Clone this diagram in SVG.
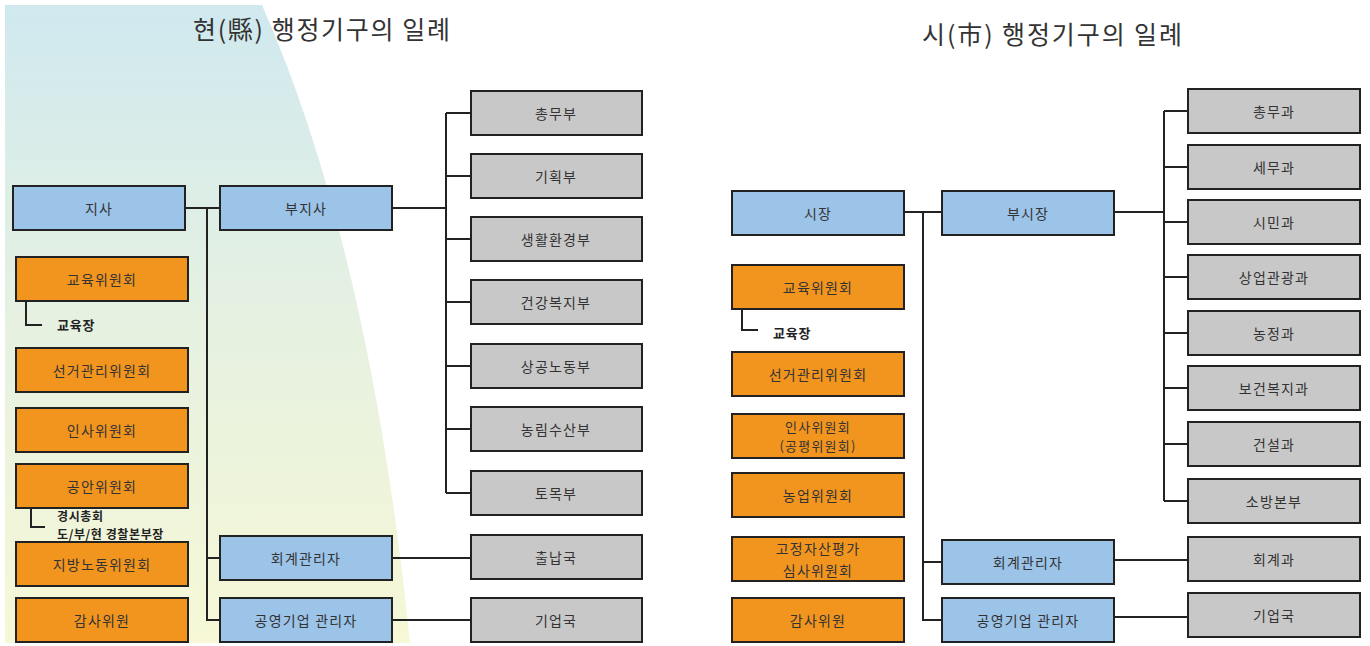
<svg xmlns="http://www.w3.org/2000/svg" width="1370" height="646" viewBox="0 0 1370 646">
<defs>
<linearGradient id="bg" x1="0" y1="0" x2="0" y2="1">
<stop offset="0" stop-color="#d0e9ef"/>
<stop offset="0.5" stop-color="#e6f1e1"/>
<stop offset="1" stop-color="#f6f8d6"/>
</linearGradient>
<style>
.b{fill:#9cc3e8;stroke:#222;stroke-width:2}
.o{fill:#f2951e;stroke:#222;stroke-width:2}
.g{fill:#c8c8c8;stroke:#222;stroke-width:2}
.t{font-family:"Noto Sans CJK KR","Noto Sans",sans-serif;font-size:14px;fill:#333;text-anchor:middle;dominant-baseline:central;letter-spacing:1.2px}
.t2{font-size:13px}
.s{font-family:"Noto Sans CJK KR","Noto Sans",sans-serif;font-size:13px;font-weight:bold;fill:#222;dominant-baseline:central;letter-spacing:0.8px}
.s2{font-size:12px;letter-spacing:0.6px}
.h{font-family:"Noto Sans CJK KR","Noto Sans",sans-serif;font-size:25px;fill:#333;dominant-baseline:central}
.c{fill:none;stroke:#222;stroke-width:2}
</style>
</defs>
<rect width="1370" height="646" fill="#fff"/>
<path d="M5,5 H262 Q370,250 410,643 H5 Z" fill="url(#bg)"/>
<text class="h" x="193" y="28" textLength="257">현(縣) 행정기구의 일례</text>
<text class="h" x="922" y="33" textLength="260">시(市) 행정기구의 일례</text>

<g id="connectors">
<path class="c" d="M185,208 H220 M207,208 V620 H220 M207,558 H220"/>
<path class="c" d="M392,208 H446 M446,113 V493 M446,113 H471 M446,176 H471 M446,239 H471 M446,302 H471 M446,366 H471 M446,429 H471 M446,493 H471"/>
<path class="c" d="M392,558 H471 M392,620 H471"/>
<path class="c" d="M26,301 V325 H42 M31,508 V527 H45"/>
<path class="c" d="M904,212 H942 M923,212 V620 H942 M923,562 H942"/>
<path class="c" d="M1114,212 H1164 M1164,111 V501 M1164,111 H1188 M1164,167 H1188 M1164,222 H1188 M1164,277 H1188 M1164,333 H1188 M1164,388 H1188 M1164,444 H1188 M1164,501 H1188"/>
<path class="c" d="M1114,560 H1188 M1114,617 H1188"/>
<path class="c" d="M742,309 V330 H758"/>
</g>

<g id="n-jisa"><rect class="b" x="13" y="186" width="172" height="44"/><text class="t" x="99" y="208">지사</text></g>
<g id="n-bujisa"><rect class="b" x="220" y="186" width="172" height="44"/><text class="t" x="306" y="208">부지사</text></g>
<g id="n-hoegye-l"><rect class="b" x="220" y="536" width="172" height="44"/><text class="t" x="306" y="558">회계관리자</text></g>
<g id="n-gongyeong-l"><rect class="b" x="220" y="598" width="172" height="44"/><text class="t" x="306" y="620">공영기업 관리자</text></g>

<g id="n-gyoyuk-l"><rect class="o" x="16" y="257" width="172" height="44"/><text class="t" x="102" y="279">교육위원회</text></g>
<g id="n-gyoyukjang-l"><text class="s" x="57" y="324">교육장</text></g>
<g id="n-seongeo-l"><rect class="o" x="16" y="348" width="172" height="44"/><text class="t" x="102" y="370">선거관리위원회</text></g>
<g id="n-insa-l"><rect class="o" x="16" y="408" width="172" height="44"/><text class="t" x="102" y="430">인사위원회</text></g>
<g id="n-gongan-l"><rect class="o" x="16" y="464" width="172" height="44"/><text class="t" x="102" y="486">공안위원회</text></g>
<g id="n-police-l"><text class="s s2" x="57" y="515">경시총회</text><text class="s s2" x="57" y="533">도/부/현 경찰본부장</text></g>
<g id="n-nodong-l"><rect class="o" x="16" y="542" width="172" height="44"/><text class="t" x="102" y="564">지방노동위원회</text></g>
<g id="n-gamsa-l"><rect class="o" x="16" y="598" width="172" height="44"/><text class="t" x="102" y="620">감사위원</text></g>

<g id="n-chongmubu"><rect class="g" x="471" y="91" width="171" height="44"/><text class="t" x="556" y="113">총무부</text></g>
<g id="n-gihoek"><rect class="g" x="471" y="154" width="171" height="44"/><text class="t" x="556" y="176">기획부</text></g>
<g id="n-saenghwal"><rect class="g" x="471" y="217" width="171" height="44"/><text class="t" x="556" y="239">생활환경부</text></g>
<g id="n-geongang"><rect class="g" x="471" y="280" width="171" height="44"/><text class="t" x="556" y="302">건강복지부</text></g>
<g id="n-sanggong"><rect class="g" x="471" y="344" width="171" height="44"/><text class="t" x="556" y="366">상공노동부</text></g>
<g id="n-nongrim"><rect class="g" x="471" y="407" width="171" height="44"/><text class="t" x="556" y="429">농림수산부</text></g>
<g id="n-tomok"><rect class="g" x="471" y="471" width="171" height="44"/><text class="t" x="556" y="493">토목부</text></g>
<g id="n-chulnap"><rect class="g" x="471" y="535" width="171" height="44"/><text class="t" x="556" y="557">출납국</text></g>
<g id="n-gieop-l"><rect class="g" x="471" y="598" width="171" height="44"/><text class="t" x="556" y="620">기업국</text></g>

<g id="n-sijang"><rect class="b" x="732" y="191" width="172" height="44"/><text class="t" x="818" y="213">시장</text></g>
<g id="n-busijang"><rect class="b" x="942" y="191" width="172" height="44"/><text class="t" x="1028" y="213">부시장</text></g>
<g id="n-hoegye-r"><rect class="b" x="942" y="540" width="172" height="44"/><text class="t" x="1028" y="562">회계관리자</text></g>
<g id="n-gongyeong-r"><rect class="b" x="942" y="598" width="172" height="44"/><text class="t" x="1028" y="620">공영기업 관리자</text></g>

<g id="n-gyoyuk-r"><rect class="o" x="732" y="265" width="172" height="44"/><text class="t" x="818" y="287">교육위원회</text></g>
<g id="n-gyoyukjang-r"><text class="s" x="773" y="332">교육장</text></g>
<g id="n-seongeo-r"><rect class="o" x="732" y="352" width="172" height="44"/><text class="t" x="818" y="374">선거관리위원회</text></g>
<g id="n-insa-r"><rect class="o" x="732" y="414" width="172" height="44"/><text class="t t2" x="818" y="426">인사위원회</text><text class="t t2" x="818" y="445">(공평위원회)</text></g>
<g id="n-nongeop-r"><rect class="o" x="732" y="473" width="172" height="44"/><text class="t" x="818" y="495">농업위원회</text></g>
<g id="n-gojeong-r"><rect class="o" x="732" y="537" width="172" height="44"/><text class="t" x="818" y="548">고정자산평가</text><text class="t" x="818" y="570">심사위원회</text></g>
<g id="n-gamsa-r"><rect class="o" x="732" y="598" width="172" height="44"/><text class="t" x="818" y="620">감사위원</text></g>

<g id="n-chongmugwa"><rect class="g" x="1188" y="89" width="172" height="44"/><text class="t" x="1274" y="111">총무과</text></g>
<g id="n-semugwa"><rect class="g" x="1188" y="145" width="172" height="44"/><text class="t" x="1274" y="167">세무과</text></g>
<g id="n-simingwa"><rect class="g" x="1188" y="200" width="172" height="44"/><text class="t" x="1274" y="222">시민과</text></g>
<g id="n-sangeop"><rect class="g" x="1188" y="255" width="172" height="44"/><text class="t" x="1274" y="277">상업관광과</text></g>
<g id="n-nongjeong"><rect class="g" x="1188" y="311" width="172" height="44"/><text class="t" x="1274" y="333">농정과</text></g>
<g id="n-bogeon"><rect class="g" x="1188" y="366" width="172" height="44"/><text class="t" x="1274" y="388">보건복지과</text></g>
<g id="n-geonseol"><rect class="g" x="1188" y="422" width="172" height="44"/><text class="t" x="1274" y="444">건설과</text></g>
<g id="n-sobang"><rect class="g" x="1188" y="479" width="172" height="44"/><text class="t" x="1274" y="501">소방본부</text></g>
<g id="n-hoegyegwa"><rect class="g" x="1188" y="537" width="172" height="44"/><text class="t" x="1274" y="559">회계과</text></g>
<g id="n-gieop-r"><rect class="g" x="1188" y="593" width="172" height="44"/><text class="t" x="1274" y="615">기업국</text></g>
</svg>
